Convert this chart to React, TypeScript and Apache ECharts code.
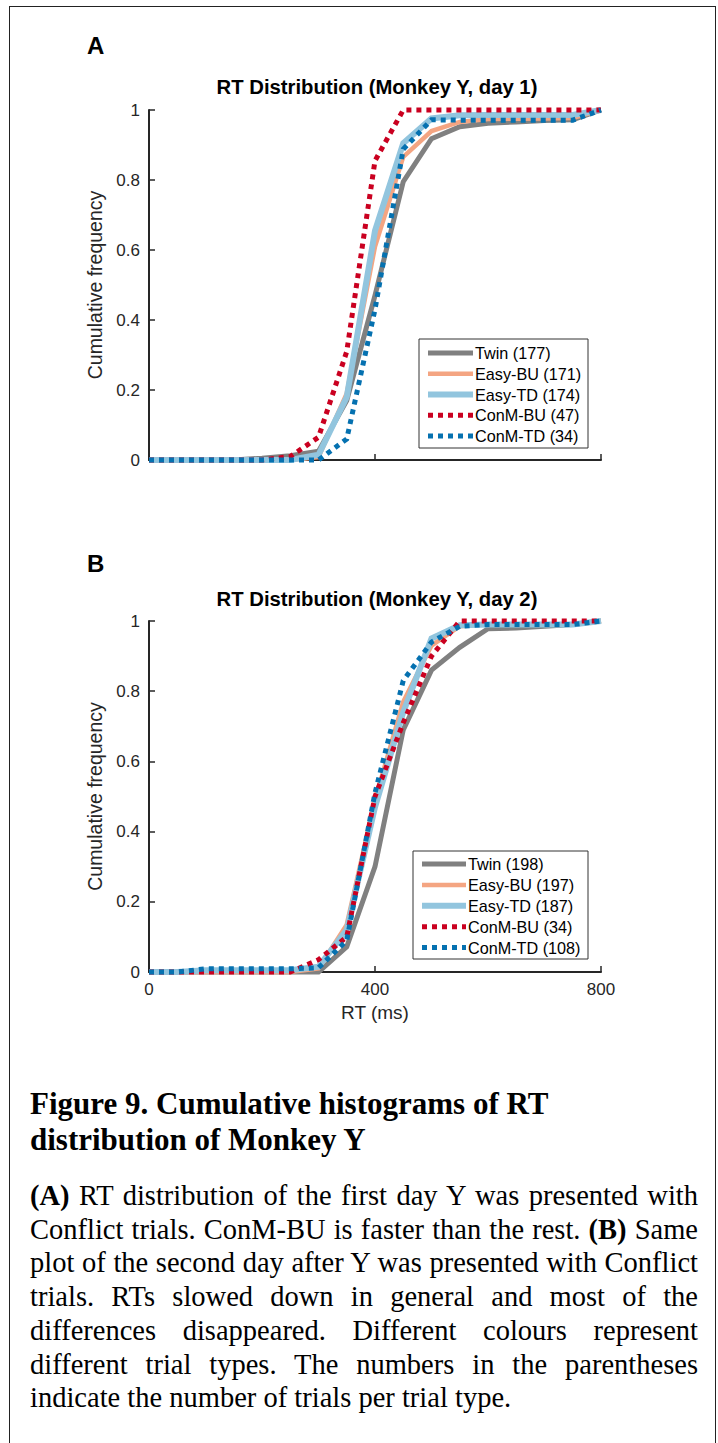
import React, { useEffect, useRef } from "react";
import * as echarts from "echarts";

// ---------- data ----------
const RT_BINS = [0, 50, 100, 150, 200, 250, 300, 350, 400, 450, 500, 550, 600, 650, 700, 750, 800];
const SERIES_NAMES = ["Twin", "Easy-BU", "Easy-TD", "ConM-BU", "ConM-TD"];
const COUNTS_DAY1 = [177, 171, 174, 47, 34];
const COUNTS_DAY2 = [198, 197, 187, 34, 108];

// Day 1 (panel A)
const TWIN_DAY1 = [0, 0, 0, 0, 0.005, 0.012, 0.025, 0.17, 0.47, 0.795, 0.918, 0.952, 0.962, 0.966, 0.97, 0.972, 1];
const EASYBU_DAY1 = [0, 0, 0, 0, 0, 0, 0.008, 0.19, 0.61, 0.866, 0.94, 0.966, 0.974, 0.975, 0.976, 0.977, 1];
const EASYTD_DAY1 = [0, 0, 0, 0, 0, 0, 0.015, 0.18, 0.655, 0.905, 0.976, 0.985, 0.986, 0.986, 0.986, 0.986, 1];
const CONMBU_DAY1 = [0, 0, 0, 0, 0, 0.01, 0.065, 0.31, 0.855, 1, 1, 1, 1, 1, 1, 1, 1];
const CONMTD_DAY1 = [0, 0, 0, 0, 0, 0, 0, 0.06, 0.43, 0.888, 0.972, 0.971, 0.971, 0.971, 0.971, 0.971, 1];

// Day 2 (panel B)
const TWIN_DAY2 = [0, 0, 0, 0, 0, 0, 0, 0.072, 0.3, 0.69, 0.86, 0.925, 0.978, 0.98, 0.985, 0.99, 1];
const EASYBU_DAY2 = [0, 0, 0, 0, 0, 0, 0.01, 0.135, 0.49, 0.77, 0.93, 0.985, 0.99, 0.99, 0.99, 0.99, 1];
const EASYTD_DAY2 = [0, 0, 0.005, 0.005, 0.005, 0.005, 0.015, 0.12, 0.47, 0.74, 0.95, 0.988, 0.99, 0.99, 0.99, 0.99, 1];
const CONMBU_DAY2 = [0, 0, 0, 0, 0, 0, 0.035, 0.1, 0.5, 0.71, 0.9, 1, 1, 1, 1, 1, 1];
const CONMTD_DAY2 = [0, 0, 0.009, 0.009, 0.009, 0.009, 0.012, 0.09, 0.51, 0.83, 0.94, 0.985, 0.99, 0.99, 0.99, 0.99, 1];

const X_MIN = 0;
const X_MAX = 800;
const X_INTERVAL = 400;
const Y_MIN = 0;
const Y_MAX = 1;
const Y_INTERVAL = 0.2;

const TITLES = ["RT Distribution (Monkey Y, day 1)", "RT Distribution (Monkey Y, day 2)"];
const PANEL_LETTERS = ["A", "B"];
const Y_NAME = "Cumulative frequency";
const X_NAME = "RT (ms)";

// caption lines: each line is a list of [text, bold]
const CAPTION_HEADING = ["Figure 9. Cumulative histograms of RT", "distribution of Monkey Y"];
const CAPTION_LINES: [string, boolean][][] = [
  [["(A)", true], [" RT distribution of the first day Y was presented with", false]],
  [["Conflict trials. ConM-BU is faster than the rest. ", false], ["(B)", true], [" Same", false]],
  [["plot of the second day after Y was presented with Conflict", false]],
  [["trials. RTs slowed down in general and most of the", false]],
  [["differences disappeared. Different colours represent", false]],
  [["different trial types. The numbers in the parentheses", false]],
  [["indicate the number of trials per trial type.", false]],
];

// ---------- styles ----------
const AXIS_COLOR = "#262626";
const SANS = "'Liberation Sans', Arial, Helvetica, sans-serif";
const SERIF = "'Liberation Serif', 'Times New Roman', Times, serif";
const LINE_STYLES: { color: string; width: number; type: any }[] = [
  { color: "#808080", width: 5, type: "solid" },
  { color: "#F4A582", width: 4.5, type: "solid" },
  { color: "#92C5DE", width: 6, type: "solid" },
  { color: "#CA0020", width: 5, type: [5, 5] },
  { color: "#0571B0", width: 5, type: [5, 5] },
];

const GRIDS = [
  { left: 149, top: 110, width: 452, height: 350 },
  { left: 149, top: 621, width: 452, height: 351 },
];

const LEGENDS = [
  { x: 419, y: 339, w: 169, h: 109, row0: 353, dy: 20.75, l0: 428, l1: 473, tx: 475 },
  { x: 413, y: 851, w: 175, h: 108, row0: 864, dy: 20.9, l0: 422, l1: 466, tx: 468 },
];

function pairs(ys: number[]) {
  return RT_BINS.map((x, i) => [x, ys[i]]);
}

function buildOption() {
  const day1 = [TWIN_DAY1, EASYBU_DAY1, EASYTD_DAY1, CONMBU_DAY1, CONMTD_DAY1];
  const day2 = [TWIN_DAY2, EASYBU_DAY2, EASYTD_DAY2, CONMBU_DAY2, CONMTD_DAY2];
  const counts = [COUNTS_DAY1, COUNTS_DAY2];

  const xAxes = GRIDS.map((_, gi) => ({
    type: "value",
    gridIndex: gi,
    min: X_MIN,
    max: X_MAX,
    interval: X_INTERVAL,
    axisLine: { show: true, onZero: false, lineStyle: { color: AXIS_COLOR, width: 2 } },
    axisTick: { show: true, inside: true, length: 6, lineStyle: { color: AXIS_COLOR, width: 1.5 } },
    axisLabel: { show: gi === 1, color: AXIS_COLOR, fontSize: 17, fontFamily: SANS, margin: 9 },
    splitLine: { show: false },
    name: gi === 1 ? X_NAME : "",
    nameLocation: "middle",
    nameGap: 31,
    nameTextStyle: { color: AXIS_COLOR, fontSize: 19, fontFamily: SANS },
  }));

  const yAxes = GRIDS.map((_, gi) => ({
    type: "value",
    gridIndex: gi,
    min: Y_MIN,
    max: Y_MAX,
    interval: Y_INTERVAL,
    axisLine: { show: true, onZero: false, lineStyle: { color: AXIS_COLOR, width: 2 } },
    axisTick: { show: true, inside: true, length: 6, lineStyle: { color: AXIS_COLOR, width: 1.5 } },
    axisLabel: {
      color: AXIS_COLOR,
      fontSize: 17,
      fontFamily: SANS,
      margin: 9,
      formatter: (v: number) => (v === 0 ? "0" : v === 1 ? "1" : v.toFixed(1)),
    },
    splitLine: { show: false },
    name: Y_NAME,
    nameLocation: "middle",
    nameGap: 37,
    nameRotate: 90,
    nameTextStyle: { color: AXIS_COLOR, fontSize: 19.5, fontFamily: SANS },
  }));

  const series: any[] = [];
  [day1, day2].forEach((data, gi) => {
    data.forEach((ys, si) => {
      series.push({
        type: "line",
        name: `${SERIES_NAMES[si]} (${counts[gi][si]})`,
        xAxisIndex: gi,
        yAxisIndex: gi,
        data: pairs(ys),
        showSymbol: false,
        symbol: "none",
        clip: false,
        z: 2 + si,
        lineStyle: { ...LINE_STYLES[si], cap: "butt", join: "miter" },
      });
    });
  });

  const graphics: any[] = [];
  GRIDS.forEach((g, gi) => {
    graphics.push({
      type: "text",
      x: 87,
      y: gi === 0 ? 45 : 563,
      style: {
        text: PANEL_LETTERS[gi],
        font: `bold 24px ${SANS}`,
        fill: "#000",
        align: "left",
        verticalAlign: "middle",
      },
    });
    graphics.push({
      type: "text",
      x: 377,
      y: gi === 0 ? 87 : 599,
      style: {
        text: TITLES[gi],
        font: `bold 20.3px ${SANS}`,
        fill: "#000",
        align: "center",
        verticalAlign: "middle",
      },
    });
    const L = LEGENDS[gi];
    const children: any[] = [
      {
        type: "rect",
        shape: { x: L.x, y: L.y, width: L.w, height: L.h },
        style: { fill: "#fff", stroke: "#333", lineWidth: 1 },
      },
    ];
    SERIES_NAMES.forEach((nm, si) => {
      const ry = L.row0 + si * L.dy;
      const ls = LINE_STYLES[si];
      children.push({
        type: "line",
        shape: { x1: L.l0, y1: ry, x2: L.l1, y2: ry },
        style: {
          stroke: ls.color,
          lineWidth: ls.width,
          lineDash: Array.isArray(ls.type) ? ls.type : null,
        },
      });
      children.push({
        type: "text",
        x: L.tx,
        y: ry,
        style: {
          text: `${nm} (${counts[gi][si]})`,
          font: `16.2px ${SANS}`,
          fill: "#000",
          align: "left",
          verticalAlign: "middle",
        },
      });
    });
    graphics.push({ type: "group", z: 100, children });
  });

  return {
    animation: false,
    backgroundColor: "transparent",
    grid: GRIDS.map((g) => ({ ...g, containLabel: false })),
    xAxis: xAxes,
    yAxis: yAxes,
    series,
    graphic: graphics,
  };
}

export default function App() {
  const ref = useRef<HTMLDivElement>(null);
  useEffect(() => {
    if (!ref.current) return;
    const chart = echarts.init(ref.current, null, { renderer: "svg" });
    chart.setOption(buildOption() as any);
    return () => chart.dispose();
  }, []);

  const PARA_TOP = 1179;
  const PARA_LH = 33.7;

  return (
    <div
      style={{
        position: "absolute",
        left: 0,
        top: 0,
        width: 718,
        height: 1443,
        background: "#fff",
        overflow: "hidden",
      }}
    >
      <div
        style={{
          position: "absolute",
          left: 9,
          top: 6,
          width: 707,
          height: 1460,
          boxSizing: "border-box",
          border: "1.5px solid #222",
          borderBottom: "none",
        }}
      />
      <div ref={ref} style={{ position: "absolute", left: 0, top: 0, width: 718, height: 1060 }} />
      {CAPTION_HEADING.map((line, i) => (
        <div
          key={"h" + i}
          style={{
            position: "absolute",
            left: 30,
            top: 1086 + i * 35.6,
            width: 668,
            whiteSpace: "nowrap",
            fontFamily: SERIF,
            fontWeight: "bold",
            fontSize: 31,
            lineHeight: "35.6px",
            color: "#000",
          }}
        >
          {line}
        </div>
      ))}
      {CAPTION_LINES.map((parts, i) => {
        const last = i === CAPTION_LINES.length - 1;
        return (
          <div
            key={"p" + i}
            style={{
              position: "absolute",
              left: 30,
              top: PARA_TOP + i * PARA_LH,
              width: 668,
              whiteSpace: "normal",
              fontFamily: SERIF,
              fontSize: 28.5,
              lineHeight: PARA_LH + "px",
              textAlign: last ? "left" : "justify",
              textAlignLast: last ? "left" : "justify",
              color: "#000",
            }}
          >
            {parts.map(([t, b], j) =>
              b ? <b key={j}>{t}</b> : <span key={j}>{t}</span>
            )}
          </div>
        );
      })}
    </div>
  );
}
